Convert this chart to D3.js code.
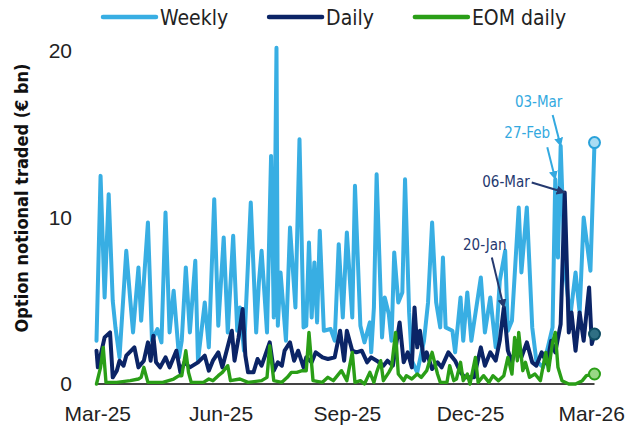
<!DOCTYPE html>
<html>
<head>
<meta charset="utf-8">
<script src="https://cdn.jsdelivr.net/npm/d3@7"></script>
<style>
  html, body { margin: 0; padding: 0; background: #fff; }
  svg { display: block; font-family: "DejaVu Sans Condensed", "DejaVu Sans", sans-serif; font-stretch: condensed; }
</style>
</head>
<body>
<svg id="chart" width="626" height="430"></svg>
<script>
// Weekly options notional (EUR bn)
const weeklyDates = [
  "2025-03-25","2025-03-28","2025-03-31","2025-04-03","2025-04-06","2025-04-08","2025-04-11","2025-04-16",
  "2025-04-19","2025-04-21","2025-04-25","2025-04-27","2025-05-02","2025-05-05","2025-05-09","2025-05-12",
  "2025-05-15","2025-05-18","2025-05-21","2025-05-25","2025-05-27","2025-05-30","2025-06-02","2025-06-06",
  "2025-06-08","2025-06-13","2025-06-16","2025-06-20","2025-06-23","2025-06-27","2025-06-30","2025-07-04",
  "2025-07-07","2025-07-09","2025-07-12","2025-07-17","2025-07-21","2025-07-23","2025-07-25","2025-07-29",
  "2025-08-01","2025-08-03","2025-08-05","2025-08-06","2025-08-08","2025-08-12","2025-08-15","2025-08-19",
  "2025-08-22","2025-08-25","2025-08-27","2025-08-29","2025-08-31","2025-09-02","2025-09-04","2025-09-06",
  "2025-09-09","2025-09-14","2025-09-17","2025-09-20","2025-09-23","2025-09-26","2025-09-30","2025-10-02",
  "2025-10-06","2025-10-09","2025-10-13","2025-10-14","2025-10-16","2025-10-18","2025-10-22","2025-10-24",
  "2025-10-27","2025-10-29","2025-10-31","2025-11-03","2025-11-06","2025-11-08","2025-11-11","2025-11-13",
  "2025-11-17","2025-11-22","2025-11-25","2025-11-28","2025-12-01","2025-12-04","2025-12-06","2025-12-08",
  "2025-12-13","2025-12-15","2025-12-19","2025-12-21","2025-12-24","2025-12-27","2026-01-03","2026-01-06",
  "2026-01-10","2026-01-14","2026-01-17","2026-01-21","2026-01-23","2026-01-26","2026-01-31","2026-02-02",
  "2026-02-06","2026-02-10","2026-02-13","2026-02-18","2026-02-25","2026-02-27","2026-03-01","2026-03-03",
  "2026-03-06","2026-03-10","2026-03-14","2026-03-17","2026-03-20","2026-03-25","2026-03-28"
];
const weeklyValues = [
  2.6, 12.5, 5.2, 11.4, 5.0, 3.4, 1.6, 8.0,
  5.0, 3.1, 7.0, 3.8, 9.7, 2.6, 3.3, 2.5,
  10.3, 3.1, 5.6, 1.6, 2.6, 7.0, 3.1, 7.4,
  1.4, 4.9, 2.2, 11.1, 3.5, 8.8, 3.1, 8.9,
  3.2, 4.6, 2.0, 10.9, 3.1, 6.1, 8.0, 3.1,
  13.7, 4.0, 20.2, 3.5, 6.7, 2.6, 9.4, 4.6,
  14.7, 3.4, 3.5, 8.5, 4.0, 7.3, 3.7, 9.2,
  3.2, 3.3, 2.6, 8.4, 4.0, 9.1, 4.0, 11.9,
  3.5, 2.5, 3.7, 1.9, 4.6, 12.6, 2.8, 5.2,
  4.2, 2.6, 7.9, 4.9, 5.5, 12.3, 4.3, 1.4,
  0.7, 2.6, 4.9, 9.7, 4.9, 3.4, 7.6, 3.4,
  3.2, 1.9, 5.2, 2.6, 5.5, 2.6, 6.4, 3.1,
  5.2, 2.2, 6.2, 8.0, 3.2, 3.8, 10.6, 6.7,
  10.6, 3.4, 1.4, 1.0, 3.4, 12.3, 7.6, 14.3,
  7.0, 4.0, 6.7, 4.3, 10.0, 6.8, 14.5
];

// Daily options notional (EUR bn)
const dailyDates = [
  "2025-03-25","2025-03-26","2025-03-31","2025-04-04","2025-04-06","2025-04-09","2025-04-11","2025-04-14",
  "2025-04-16","2025-04-22","2025-04-25","2025-04-29","2025-05-02","2025-05-04","2025-05-06","2025-05-08",
  "2025-05-11","2025-05-15","2025-05-18","2025-05-23","2025-05-26","2025-05-29","2025-06-02","2025-06-08",
  "2025-06-13","2025-06-16","2025-06-19","2025-06-23","2025-06-26","2025-07-03","2025-07-05","2025-07-08",
  "2025-07-11","2025-07-13","2025-07-15","2025-07-19","2025-07-22","2025-07-25","2025-07-31","2025-08-03",
  "2025-08-06","2025-08-09","2025-08-11","2025-08-15","2025-08-18","2025-08-21","2025-08-25","2025-08-27",
  "2025-08-31","2025-09-03","2025-09-08","2025-09-12","2025-09-17","2025-09-21","2025-09-24","2025-09-26",
  "2025-09-30","2025-10-03","2025-10-07","2025-10-11","2025-10-14","2025-10-18","2025-10-23","2025-10-26",
  "2025-10-30","2025-11-04","2025-11-07","2025-11-10","2025-11-13","2025-11-15","2025-11-17","2025-11-19",
  "2025-11-22","2025-11-24","2025-11-28","2025-12-02","2025-12-05","2025-12-10","2025-12-15","2025-12-19",
  "2025-12-22","2025-12-29","2026-01-03","2026-01-06","2026-01-10","2026-01-14","2026-01-17","2026-01-20",
  "2026-01-23","2026-01-26","2026-01-30","2026-02-02","2026-02-06","2026-02-10","2026-02-13","2026-02-17",
  "2026-02-21","2026-02-24","2026-02-27","2026-03-03","2026-03-06","2026-03-09","2026-03-11","2026-03-14",
  "2026-03-17","2026-03-20","2026-03-24","2026-03-26","2026-03-28"
];
const dailyValues = [
  2.0, 1.0, 2.8, 3.1, 0.4, 0.8, 1.4, 1.1,
  1.7, 2.2, 1.0, 1.4, 2.5, 1.4, 2.9, 1.3,
  1.0, 1.6, 1.0, 2.0, 0.7, 1.3, 1.0, 1.3,
  1.7, 0.8, 1.4, 1.9, 1.0, 3.2, 1.4, 2.8,
  4.5, 1.7, 0.7, 0.7, 1.5, 1.1, 2.5, 0.8,
  1.3, 1.1, 2.0, 2.5, 1.4, 2.0, 1.0, 1.6,
  1.3, 1.9, 1.6, 1.5, 1.6, 3.2, 1.4, 3.2,
  2.0, 1.9, 2.0, 1.3, 1.6, 1.4, 1.1, 1.4,
  1.1, 3.7, 1.3, 1.9, 1.0, 4.6, 2.2, 3.2,
  1.4, 1.9, 0.9, 1.3, 1.0, 1.9, 1.4, 0.7,
  0.4, 0.4, 2.2, 1.1, 1.9, 1.4, 2.6, 4.6,
  2.0, 1.3, 2.6, 1.6, 2.5, 1.3, 1.1, 1.9,
  1.2, 2.6, 1.9, 3.6, 11.5, 3.1, 4.3, 2.0,
  4.3, 2.6, 5.8, 2.4, 3.0
];

// End-of-month daily options notional (EUR bn)
const eomDates = [
  "2025-03-25","2025-03-28","2025-03-30","2025-04-01","2025-04-09","2025-04-19","2025-04-25","2025-04-27",
  "2025-04-29","2025-05-02","2025-05-13","2025-05-21","2025-05-25","2025-05-27","2025-05-30","2025-06-01",
  "2025-06-03","2025-06-12","2025-06-16","2025-06-19","2025-06-23","2025-06-26","2025-06-30","2025-07-02",
  "2025-07-09","2025-07-15","2025-07-25","2025-07-29","2025-07-31","2025-08-03","2025-08-09","2025-08-13",
  "2025-08-16","2025-08-20","2025-08-24","2025-08-27","2025-08-29","2025-09-01","2025-09-08","2025-09-12",
  "2025-09-16","2025-09-19","2025-09-22","2025-09-26","2025-09-30","2025-10-02","2025-10-06","2025-10-09",
  "2025-10-13","2025-10-16","2025-10-18","2025-10-21","2025-10-23","2025-10-27","2025-10-29","2025-11-01",
  "2025-11-03","2025-11-07","2025-11-09","2025-11-13","2025-11-17","2025-11-20","2025-11-24","2025-11-28",
  "2025-12-02","2025-12-04","2025-12-09","2025-12-11","2025-12-14","2025-12-16","2025-12-19","2025-12-21",
  "2025-12-24","2025-12-26","2025-12-30","2026-01-01","2026-01-05","2026-01-09","2026-01-12","2026-01-16",
  "2026-01-20","2026-01-23","2026-01-26","2026-01-28","2026-01-30","2026-01-31","2026-02-03","2026-02-05",
  "2026-02-08","2026-02-12","2026-02-16","2026-02-20","2026-02-22","2026-02-25","2026-02-27","2026-03-01",
  "2026-03-04","2026-03-09","2026-03-14","2026-03-19","2026-03-22","2026-03-28"
];
const eomValues = [
  0.0, 1.0, 2.2, 0.1, 0.1, 0.2, 0.3, 0.4,
  1.0, 0.1, 0.1, 0.3, 0.5, 0.5, 2.0, 0.7,
  0.1, 0.1, 0.3, 0.2, 0.5, 0.7, 1.1, 0.2,
  0.3, 0.1, 0.2, 0.4, 2.3, 0.2, 0.1, 0.4,
  0.7, 0.7, 0.8, 0.8, 3.1, 0.2, 0.1, 0.4,
  0.2, 0.5, 0.8, 0.2, 1.9, 0.1, 0.2, 0.0,
  0.7, 0.1, 0.7, 1.4, 0.2, 0.7, 1.0, 3.1,
  0.6, 0.2, 0.5, 0.3, 0.6, 0.4, 0.8, 1.9,
  0.6, 0.1, 0.1, 1.1, 0.2, 0.3, 1.3, 0.2,
  0.6, 0.0, 1.6, 0.1, 0.5, 0.1, 0.5, 0.2,
  0.5, 1.6, 0.6, 2.8, 1.4, 3.1, 0.8, 1.3,
  0.4, 0.6, 0.2, 1.9, 0.8, 2.5, 3.1, 1.0,
  0.2, 0.0, 0.0, 0.2, 0.5, 0.6
];

const seriesNames = ["Weekly", "Daily", "EOM daily"];
const tickDates = ["2025-03-01", "2025-06-01", "2025-09-01", "2025-12-01", "2026-03-01"];
const yTicks = [0, 10, 20];

const annotationLabels = ["03-Mar", "27-Feb", "06-Mar", "20-Jan"];
const annotationSeries = ["Weekly", "Weekly", "Daily", "Daily"];
const annotationDates = ["2026-03-03", "2026-02-27", "2026-03-06", "2026-01-20"];

// styling / layout
const colors = { "Weekly": "#38aee3", "Daily": "#0b2466", "EOM daily": "#2a9e17" };
const widths = { "Weekly": 4, "Daily": 4, "EOM daily": 3.4 };
const markerFill = { "Weekly": "#a9dcf3", "Daily": "#2f6f84", "EOM daily": "#9ad786" };
const markerStroke = { "Weekly": "#2aa2da", "Daily": "#0f4d63", "EOM daily": "#2a9e17" };
const noteColors = { "Weekly": "#33a9e0", "Daily": "#25396f" };
// [arrow start dx, dy, text dx, dy, anchor] relative to the pointed value
const noteLayout = {
  "03-Mar": [-8, -31, -22, -39, "middle"],
  "27-Feb": [-8, -32, -28, -41, "middle"],
  "06-Mar": [-33, -10, -35, -6, "end"],
  "20-Jan": [-12, -50, -19, -57, "middle"]
};

const svg = d3.select("#chart");
const parse = d3.timeParse("%Y-%m-%d");

const series = [
  { name: "Weekly", dates: weeklyDates, values: weeklyValues },
  { name: "Daily", dates: dailyDates, values: dailyValues },
  { name: "EOM daily", dates: eomDates, values: eomValues }
].map(s => ({
  name: s.name,
  points: s.dates.map((d, i) => ({ date: parse(d), value: s.values[i] }))
}));

const allDates = series.flatMap(s => s.points.map(p => p.date));
const x = d3.scaleTime().domain(d3.extent(allDates)).range([96.5, 594.5]);
const y = d3.scaleLinear().domain([0, 20]).range([384, 51]);

// y axis labels
const yAxis = svg.append("g")
  .attr("transform", "translate(72,0)")
  .call(d3.axisLeft(y).tickValues(yTicks).tickSize(0).tickPadding(0).tickFormat(d3.format("d")));
yAxis.select(".domain").remove();
yAxis.selectAll("text")
  .attr("font-family", null)
  .attr("font-size", 21)
  .attr("fill", "#222");

// x axis labels, left-aligned at the first of the month
const xAxis = svg.append("g")
  .attr("transform", `translate(0,${y(0)})`)
  .call(d3.axisBottom(x).tickValues(tickDates.map(parse)).tickSize(0).tickFormat(d3.timeFormat("%b-%y")));
xAxis.select(".domain").remove();
xAxis.selectAll("text")
  .attr("font-family", null)
  .attr("font-size", 21)
  .attr("fill", "#222")
  .attr("text-anchor", "start")
  .attr("y", 37)
  .attr("dy", null);

// y title
svg.append("text")
  .attr("transform", "translate(28,198) rotate(-90)")
  .attr("text-anchor", "middle")
  .attr("font-size", 18)
  .attr("font-weight", "bold")
  .attr("fill", "#111")
  .text("Option notional traded (€ bn)");

// baseline
svg.append("line")
  .attr("x1", x.range()[0]).attr("x2", x.range()[1])
  .attr("y1", y(0)).attr("y2", y(0))
  .attr("stroke", "#444")
  .attr("stroke-width", 2);

const line = d3.line().x(d => x(d.date)).y(d => y(d.value));

svg.append("g")
  .selectAll("path")
  .data(series)
  .join("path")
  .attr("d", d => line(d.points))
  .attr("fill", "none")
  .attr("stroke", d => colors[d.name])
  .attr("stroke-width", d => widths[d.name])
  .attr("stroke-linejoin", "round")
  .attr("stroke-linecap", "round");

// end markers
svg.append("g")
  .selectAll("circle")
  .data(series)
  .join("circle")
  .attr("cx", d => x(d.points[d.points.length - 1].date))
  .attr("cy", d => y(d.points[d.points.length - 1].value))
  .attr("r", 5.5)
  .attr("fill", d => markerFill[d.name])
  .attr("stroke", d => markerStroke[d.name])
  .attr("stroke-width", 2);

// annotations
const defs = svg.append("defs");
Object.entries(noteColors).forEach(([name, c]) => {
  defs.append("marker")
    .attr("id", "arrow-" + name)
    .attr("viewBox", "0 0 10 10")
    .attr("refX", 9).attr("refY", 5)
    .attr("markerWidth", 4.5).attr("markerHeight", 4.5)
    .attr("orient", "auto")
    .append("path")
    .attr("d", "M0,0L10,5L0,10z")
    .attr("fill", c);
});

const notes = annotationLabels.map((label, i) => {
  const s = series.find(s => s.name === annotationSeries[i]);
  const t = parse(annotationDates[i]).getTime();
  const p = s.points.find(p => p.date.getTime() === t);
  return { label, name: s.name, px: x(p.date), py: y(p.value), lay: noteLayout[label] };
});

const noteG = svg.append("g").selectAll("g").data(notes).join("g");
noteG.append("line")
  .attr("x1", d => d.px + d.lay[0]).attr("y1", d => d.py + d.lay[1])
  .attr("x2", d => d.px).attr("y2", d => d.py)
  .attr("stroke", d => noteColors[d.name])
  .attr("stroke-width", 2)
  .attr("marker-end", d => `url(#arrow-${d.name})`);
noteG.append("text")
  .attr("x", d => d.px + d.lay[2]).attr("y", d => d.py + d.lay[3])
  .attr("text-anchor", d => d.lay[4])
  .attr("font-size", 15)
  .attr("fill", d => noteColors[d.name])
  .text(d => d.label);

// legend
const legend = svg.append("g").attr("transform", "translate(103,17)");
let lx = 0;
seriesNames.forEach(name => {
  const item = legend.append("g").attr("transform", `translate(${lx},0)`);
  item.append("line")
    .attr("x1", 0).attr("x2", 53)
    .attr("stroke", colors[name])
    .attr("stroke-width", 4.5)
    .attr("stroke-linecap", "round");
  const txt = item.append("text")
    .attr("x", 57).attr("y", 8)
    .attr("font-size", 21)
    .attr("fill", "#222")
    .text(name);
  lx += 57 + txt.node().getComputedTextLength() + 41;
});
</script>
</body>
</html>
